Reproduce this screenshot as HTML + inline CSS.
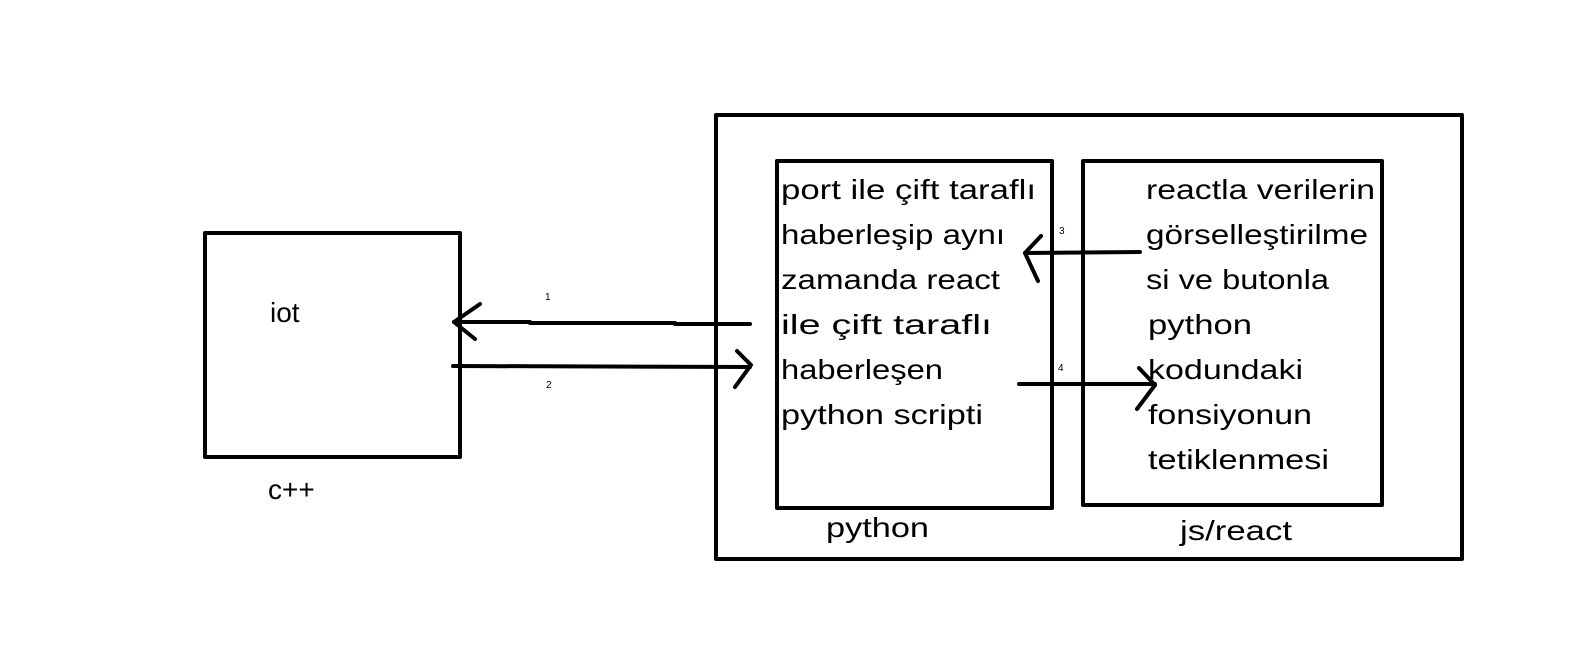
<!DOCTYPE html>
<html><head><meta charset="utf-8"><style>
html,body{margin:0;padding:0;background:#fff;}
svg{display:block;}
text{font-family:"Liberation Sans",sans-serif;fill:#000;}
.t{font-size:28px;}
.n{font-size:10px;}
</style></head><body>
<svg width="1576" height="665" viewBox="0 0 1576 665" xmlns="http://www.w3.org/2000/svg">
<rect x="0" y="0" width="1576" height="665" fill="#fff"/>
<g fill="none" stroke="#000" stroke-width="4" stroke-linecap="round" stroke-linejoin="round">
<rect x="205" y="233" width="255" height="224"/>
<rect x="716" y="115" width="746" height="444"/>
<rect x="777" y="161" width="275" height="347"/>
<rect x="1083" y="161" width="299" height="344"/>
<polyline points="750,324 675,324 675,323 530,323 530,322 454,322"/>
<polyline points="480,304 454,322 475,339"/>
<polyline points="453,366 750,367"/>
<polyline points="737,351 751,365 735,387"/>
<polyline points="1140,252 1025,253"/>
<polyline points="1041,236 1025,253 1038,281"/>
<polyline points="1019,384 1155,384"/>
<polyline points="1139,368 1155,385 1137,409"/>
</g>
<text class="t" x="270" y="322">iot</text>
<text class="t" x="268" y="499">c++</text>
<text class="t" x="826" y="537" textLength="103" lengthAdjust="spacingAndGlyphs">python</text>
<text class="t" x="1180" y="540" textLength="112" lengthAdjust="spacingAndGlyphs">js/react</text>
<text class="t" x="781" y="199" textLength="255" lengthAdjust="spacingAndGlyphs">port ile çift taraflı</text>
<text class="t" x="781" y="244" textLength="224" lengthAdjust="spacingAndGlyphs">haberleşip aynı</text>
<text class="t" x="781" y="289" textLength="219" lengthAdjust="spacingAndGlyphs">zamanda react</text>
<text class="t" x="781" y="334" textLength="211" lengthAdjust="spacingAndGlyphs">ile çift taraflı</text>
<text class="t" x="781" y="379" textLength="162" lengthAdjust="spacingAndGlyphs">haberleşen</text>
<text class="t" x="781" y="424" textLength="202" lengthAdjust="spacingAndGlyphs">python scripti</text>
<text class="t" x="1146" y="199" textLength="229" lengthAdjust="spacingAndGlyphs">reactla verilerin</text>
<text class="t" x="1146" y="244" textLength="222" lengthAdjust="spacingAndGlyphs">görselleştirilme</text>
<text class="t" x="1146" y="289" textLength="183" lengthAdjust="spacingAndGlyphs">si ve butonla</text>
<text class="t" x="1148" y="334" textLength="104" lengthAdjust="spacingAndGlyphs">python</text>
<text class="t" x="1148" y="379" textLength="155" lengthAdjust="spacingAndGlyphs">kodundaki</text>
<text class="t" x="1148" y="424" textLength="164" lengthAdjust="spacingAndGlyphs">fonsiyonun</text>
<text class="t" x="1148" y="469" textLength="181" lengthAdjust="spacingAndGlyphs">tetiklenmesi</text>
<text class="n" x="545" y="300">1</text>
<text class="n" x="546" y="388">2</text>
<text class="n" x="1059" y="234">3</text>
<text class="n" x="1058" y="371">4</text>
</svg>
</body></html>
